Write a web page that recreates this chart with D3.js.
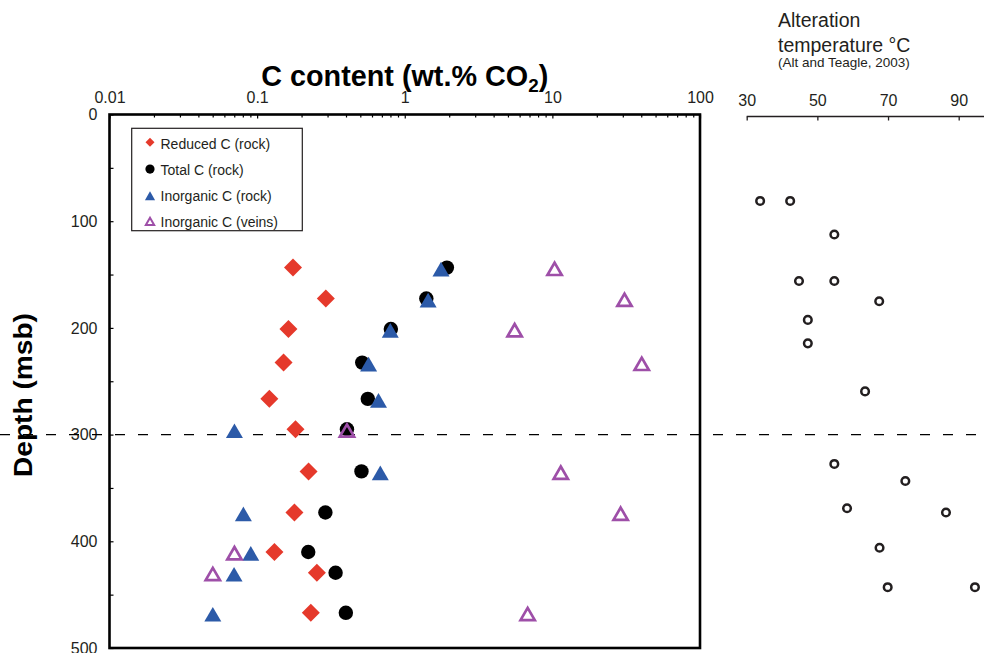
<!DOCTYPE html>
<html>
<head>
<meta charset="utf-8">
<script src="https://cdn.jsdelivr.net/npm/d3@7"></script>
<style>
  body { margin: 0; background: #fff; }
  svg { display: block; font-family: "Liberation Sans", Arial, Helvetica, sans-serif; }
</style>
</head>
<body>
<div id="chart"></div>
<script>

// depth rows (msb) shared by the carbon series
var depths = [143.5, 172.5, 201, 232.5, 266.5, 295, 334.5, 373, 410, 429.5, 467];

// C content, wt.% CO2 (null = no sample)
var reducedC   = [0.175, 0.292, 0.163, 0.151, 0.121, 0.182, 0.223, 0.179, 0.131, 0.254, 0.231];
var totalC     = [1.93, 1.40, 0.805, 0.515, 0.562, 0.406, 0.509, 0.290, 0.222, 0.340, 0.399];
var inorgRock  = [1.76, 1.44, 0.798, 0.569, 0.664, 0.0702, 0.683, 0.0807, 0.0906, 0.0698, 0.0501];
var inorgVeins = [10.35, 30.8, 5.55, 40.3, null, 0.406, 11.4, 29.0, 0.0702, 0.0501, 6.80];

// alteration temperature (Alt and Teagle, 2003)
var tempDepths = [81, 81, 112.5, 156, 156, 175, 192.5, 214.5, 259.5, 327.5, 343.5, 369, 373, 406, 443, 443];
var temps      = [33.8, 42.3, 54.8, 44.8, 54.8, 67.5, 47.3, 47.3, 63.5, 54.8, 74.9, 58.4, 86.4, 67.6, 69.9, 94.6];

// tick labels
var xTicks = [0.01, 0.1, 1, 10, 100];
var yTicks = [0, 100, 200, 300, 400, 500];
var tTicks = [30, 50, 70, 90];

var legendLabels = ["Reduced C (rock)", "Total C (rock)", "Inorganic C (rock)", "Inorganic C (veins)"];

var width = 984, height = 653;
var red = "#e5392b", blue = "#2c5aa8", purple = "#9e4fa8", ink = "#231f20";

var svg = d3.select("#chart").append("svg")
  .attr("width", width)
  .attr("height", height);

// scales
var x = d3.scaleLog().domain([0.01, 100]).range([109.5, 700]);
var y = d3.scaleLinear().domain([0, 500]).range([114.5, 648]);
var t = d3.scaleLinear().domain([30, 90]).range([746.7, 958.7]);

// marker shapes
var diamondType = {
  draw: function(ctx, size) {
    var r = Math.sqrt(size / 2);
    ctx.moveTo(0, -r); ctx.lineTo(r, 0); ctx.lineTo(0, r); ctx.lineTo(-r, 0); ctx.closePath();
  }
};
var triType = {
  draw: function(ctx, size) {
    var s = Math.sqrt(size * 4 / Math.sqrt(3));
    var h = s * Math.sqrt(3) / 2;
    ctx.moveTo(0, -h * 0.4); ctx.lineTo(s / 2, h * 0.6); ctx.lineTo(-s / 2, h * 0.6); ctx.closePath();
  }
};

// top axis (log) - major ticks with labels
var topAxis = svg.append("g")
  .attr("transform", "translate(0," + y(0) + ")")
  .style("font-size", "16px")
  .call(d3.axisTop(x)
    .tickValues(xTicks)
    .tickFormat(function(d){ return String(d); })
    .tickSizeInner(-4)
    .tickSizeOuter(0)
    .tickPadding(11.5));
topAxis.select(".domain").remove();

// minor ticks 2..9 per decade
var minor = [];
xTicks.slice(0, -1).forEach(function(d){
  for (var k = 2; k <= 9; k++) minor.push(d * k);
});
var topMinor = svg.append("g")
  .attr("transform", "translate(0," + y(0) + ")")
  .call(d3.axisTop(x).tickValues(minor).tickFormat("").tickSizeInner(-3).tickSizeOuter(0));
topMinor.select(".domain").remove();

// left axis
var leftAxis = svg.append("g")
  .attr("transform", "translate(" + x(0.01) + ",0)")
  .style("font-size", "16px")
  .call(d3.axisLeft(y)
    .tickValues(d3.range(0, 501, 50))
    .tickFormat(function(d){ return yTicks.indexOf(d) >= 0 ? d : ""; })
    .tickSizeInner(-4)
    .tickSizeOuter(0)
    .tickPadding(12));
leftAxis.select(".domain").remove();
svg.selectAll(".tick text").attr("fill", ink);
svg.selectAll(".tick line").attr("stroke", "#000").attr("stroke-width", 1.2);

// frame
svg.append("rect")
  .attr("x", x(0.01))
  .attr("y", y(0))
  .attr("width", x(100) - x(0.01))
  .attr("height", y(500) - y(0))
  .attr("fill", "none")
  .attr("stroke", "#000")
  .attr("stroke-width", 2.6);

// dashed line at 300 msb
svg.append("line")
  .attr("x1", 0).attr("x2", width)
  .attr("y1", y(300)).attr("y2", y(300))
  .attr("stroke", "#000")
  .attr("stroke-width", 1.4)
  .attr("stroke-dasharray", "10,13");

// titles
var title = svg.append("text")
  .attr("x", (x(0.01) + x(100)) / 2)
  .attr("y", 86)
  .attr("text-anchor", "middle")
  .attr("font-weight", "bold")
  .attr("font-size", "29px")
  .attr("fill", "#000")
  .attr("textLength", 287)
  .attr("lengthAdjust", "spacingAndGlyphs");
title.append("tspan").text("C content (wt.% CO");
title.append("tspan").attr("font-size", "19px").attr("dy", 6).text("2");
title.append("tspan").attr("dy", -6).text(")");

svg.append("text")
  .attr("transform", "translate(23,395) rotate(-90)")
  .attr("text-anchor", "middle")
  .attr("dominant-baseline", "central")
  .attr("font-weight", "bold")
  .attr("font-size", "26px")
  .attr("fill", "#000")
  .attr("textLength", 164)
  .attr("lengthAdjust", "spacingAndGlyphs")
  .text("Depth (msb)");

// series rows
function rows(values) {
  return depths.map(function(d, i){ return {depth: d, value: values[i]}; })
    .filter(function(d){ return d.value != null; });
}
function place(d) { return "translate(" + x(d.value) + "," + y(d.depth) + ")"; }

svg.append("g").selectAll("path")
  .data(rows(reducedC)).enter().append("path")
  .attr("d", d3.symbol().type(diamondType).size(162))
  .attr("transform", place)
  .attr("fill", red);

svg.append("g").selectAll("circle")
  .data(rows(totalC)).enter().append("circle")
  .attr("cx", function(d){ return x(d.value); })
  .attr("cy", function(d){ return y(d.depth); })
  .attr("r", 7.2)
  .attr("fill", "#000");

svg.append("g").selectAll("path")
  .data(rows(inorgRock)).enter().append("path")
  .attr("d", d3.symbol().type(triType).size(125))
  .attr("transform", place)
  .attr("fill", blue);

svg.append("g").selectAll("path")
  .data(rows(inorgVeins)).enter().append("path")
  .attr("d", d3.symbol().type(triType).size(88))
  .attr("transform", place)
  .attr("fill", "none")
  .attr("stroke", purple)
  .attr("stroke-width", 2.7);

// legend
var lg = svg.append("g");
lg.append("rect")
  .attr("x", 131.7).attr("y", 128.3)
  .attr("width", 170.6).attr("height", 102.4)
  .attr("fill", "#fff")
  .attr("stroke", ink)
  .attr("stroke-width", 1.2);

var legendItems = lg.selectAll(".item")
  .data(legendLabels).enter().append("g")
  .attr("class", "item")
  .attr("transform", function(d, i){ return "translate(150," + (144.3 + i * 25.8) + ")"; });

legendItems.append("text")
  .attr("x", 10.5)
  .attr("dy", "0.36em")
  .attr("font-size", "14px")
  .attr("fill", ink)
  .text(function(d){ return d; });

legendItems.filter(function(d, i){ return i === 0; }).append("path")
  .attr("d", d3.symbol().type(diamondType).size(40))
  .attr("transform", "translate(0,-2)")
  .attr("fill", red);
legendItems.filter(function(d, i){ return i === 1; }).append("circle")
  .attr("cy", -1).attr("r", 4.6).attr("fill", "#000");
legendItems.filter(function(d, i){ return i === 2; }).append("path")
  .attr("d", d3.symbol().type(triType).size(45))
  .attr("transform", "translate(0,-1)")
  .attr("fill", blue);
legendItems.filter(function(d, i){ return i === 3; }).append("path")
  .attr("d", d3.symbol().type(triType).size(30))
  .attr("transform", "translate(0,-1)")
  .attr("fill", "none")
  .attr("stroke", purple)
  .attr("stroke-width", 2);

// right panel: alteration temperature
var tAxisY = 116.5;
svg.append("text")
  .attr("x", 778).attr("y", 27)
  .attr("font-size", "19.5px").attr("fill", ink)
  .text("Alteration");
svg.append("text")
  .attr("x", 778).attr("y", 51.5)
  .attr("font-size", "19.5px").attr("fill", ink)
  .text("temperature \u00B0C");
svg.append("text")
  .attr("x", 778).attr("y", 67)
  .attr("font-size", "13.5px").attr("fill", ink)
  .text("(Alt and Teagle, 2003)");

var tAxis = svg.append("g")
  .attr("transform", "translate(0," + tAxisY + ")")
  .style("font-size", "16px")
  .call(d3.axisTop(t)
    .tickValues(tTicks)
    .tickSizeInner(-4)
    .tickSizeOuter(0)
    .tickPadding(11));
tAxis.select(".domain").remove();
tAxis.selectAll(".tick text").attr("fill", ink);
tAxis.selectAll(".tick line").attr("stroke", ink).attr("stroke-width", 1.3);
svg.append("line")
  .attr("x1", t(30)).attr("x2", width)
  .attr("y1", tAxisY).attr("y2", tAxisY)
  .attr("stroke", ink)
  .attr("stroke-width", 1.3);

svg.append("g").selectAll("circle")
  .data(temps).enter().append("circle")
  .attr("cx", function(d){ return t(d); })
  .attr("cy", function(d, i){ return y(tempDepths[i]); })
  .attr("r", 3.8)
  .attr("fill", "#fff")
  .attr("stroke", ink)
  .attr("stroke-width", 2.5);

</script>
</body>
</html>
